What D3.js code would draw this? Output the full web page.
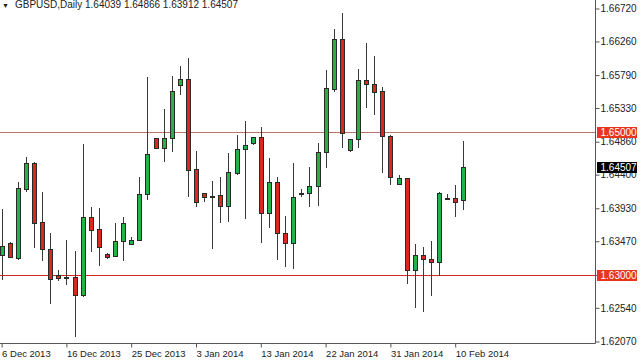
<!DOCTYPE html>
<html><head><meta charset="utf-8">
<script src="https://cdn.jsdelivr.net/npm/d3@7"></script>
<style>
html,body{margin:0;padding:0;background:#fff;}
svg{display:block;font-family:"Liberation Sans",Arial,sans-serif;}
</style></head>
<body>
<svg id="chart" width="640" height="360"></svg>
<script>
const symbolTitle = "GBPUSD,Daily";
const titleValues = ["1.64039", "1.64866", "1.63912", "1.64507"];

const opens = [1.63278,1.63441,1.63232,1.64200,1.64567,1.63735,1.63366,1.62999,1.62972,1.62975,
1.62719,1.63813,1.63637,1.63292,1.63268,1.63469,1.63429,1.63483,1.64123,1.64908,
1.64776,1.64908,1.65652,1.65732,1.64479,1.64140,1.64102,1.64116,1.63966,1.64427,
1.64754,1.64846,1.64926,1.63871,1.64302,1.63581,1.63441,1.64148,1.64148,1.64246,
1.64712,1.65596,1.66294,1.64744,1.64894,1.65722,1.65662,1.65568,1.64944,1.64269,
1.64349,1.63068,1.63278,1.63226,1.63176,1.64070,1.64070,1.64039];
const highs = [1.63920,1.63460,1.64302,1.64651,1.64577,1.64162,1.63589,1.63068,1.63487,1.63338,
1.64828,1.63944,1.63930,1.63299,1.63729,1.63804,1.63529,1.64367,1.65768,1.64912,
1.65313,1.65778,1.65922,1.66025,1.64735,1.64144,1.64316,1.64363,1.64707,1.64954,
1.65153,1.64930,1.65070,1.64633,1.64367,1.63823,1.64567,1.64195,1.64511,1.64846,
1.65861,1.66430,1.66662,1.64894,1.65875,1.66243,1.66057,1.65620,1.64947,1.64395,
1.64353,1.63432,1.63394,1.63478,1.64162,1.64126,1.64256,1.64866];
const lows = [1.62929,1.63236,1.63208,1.64162,1.63372,1.63198,1.62594,1.62919,1.62859,1.62137,
1.62696,1.63324,1.63128,1.63218,1.63264,1.63198,1.63425,1.63480,1.64050,1.64754,
1.64581,1.64721,1.65512,1.64092,1.63944,1.64022,1.63358,1.63721,1.63735,1.64395,
1.63777,1.64814,1.63441,1.63651,1.63208,1.63115,1.63078,1.64092,1.63944,1.63962,
1.64489,1.65550,1.64768,1.64721,1.64768,1.65327,1.65233,1.64427,1.64249,1.64256,
1.62873,1.62534,1.62486,1.62705,1.62985,1.64056,1.63804,1.63912];
const closes = [1.63404,1.63246,1.64209,1.64567,1.63729,1.63358,1.62939,1.62961,1.62969,1.62719,
1.63813,1.63627,1.63386,1.63254,1.63478,1.63729,1.63492,1.64130,1.64688,1.64768,
1.64916,1.65572,1.65732,1.64465,1.64022,1.64084,1.64100,1.63966,1.64437,1.64758,
1.64814,1.64926,1.63871,1.64302,1.63585,1.63441,1.64084,1.64150,1.64246,1.64712,
1.65606,1.66294,1.64986,1.64894,1.65722,1.65662,1.65558,1.64940,1.64367,1.64349,
1.63068,1.63278,1.63222,1.63176,1.64148,1.64072,1.64022,1.64507];

const yTickValues = [1.66720,1.66260,1.65790,1.65330,1.64860,1.64400,1.63930,1.63470,1.63000,1.62540,1.62070];
const xTickBars = [0, 8, 16, 24, 32, 40, 48, 56];
const xTickLabels = ["6 Dec 2013","16 Dec 2013","25 Dec 2013","3 Jan 2014","13 Jan 2014","22 Jan 2014","31 Jan 2014","10 Feb 2014"];
const levelLines = [1.65000, 1.63000];
const levelColors = ["#b8766a", "#cc2a22"];
const currentPrice = 1.64507;

const svg = d3.select("#chart");
const plotRight = 595.5, plotBottom = 343.5;

const bars = opens.map((o,i)=>({i, o, h:highs[i], l:lows[i], c:closes[i]}));

const x = d3.scaleLinear().domain([0, bars.length-1]).range([1.6, 463.3]);
const y = d3.scaleLinear().domain([1.6207, 1.6672]).range([341.5, 8.5]);

// level lines
const lv = svg.append("g");
levelLines.forEach((v,k)=>{
  const yy = Math.round(y(v)) + 0.5;
  lv.append("line").attr("x1",0).attr("x2",plotRight).attr("y1",yy).attr("y2",yy)
    .attr("stroke",levelColors[k]).attr("stroke-width",1);
});

// candles
const cg = svg.append("g");
bars.forEach(b=>{
  const cx = Math.round(x(b.i));
  const up = b.c >= b.o;
  cg.append("line").attr("x1",cx+0.5).attr("x2",cx+0.5)
    .attr("y1",Math.round(y(b.h))).attr("y2",Math.round(y(b.l)))
    .attr("stroke","#3a3a3a").attr("stroke-width",1);
  const yt = Math.round(y(Math.max(b.o,b.c)));
  const yb = Math.round(y(Math.min(b.o,b.c)));
  const hgt = Math.max(1, yb - yt);
  cg.append("rect").attr("x",cx-2+0.5).attr("y",yt+0.5).attr("width",4).attr("height",hgt)
    .attr("fill", up ? "#22b24a" : "#d9281e")
    .attr("stroke", "#2a2a2a").attr("stroke-width",1);
});

// frame
svg.append("line").attr("x1",plotRight).attr("x2",plotRight).attr("y1",0).attr("y2",plotBottom)
  .attr("stroke","#555").attr("stroke-width",1);
svg.append("line").attr("x1",0).attr("x2",plotRight).attr("y1",plotBottom).attr("y2",plotBottom)
  .attr("stroke","#555").attr("stroke-width",1);

// right axis
const ya = svg.append("g").attr("transform",`translate(${plotRight},0)`)
  .call(d3.axisRight(y).tickValues(yTickValues).tickSize(4).tickSizeOuter(0).tickFormat(d=>d.toFixed(5)));
ya.select(".domain").remove();
ya.selectAll(".tick line").attr("stroke","#555");
ya.selectAll(".tick text").attr("x",5).attr("fill","#222").style("font-size","10px")
  .style("font-family","'Liberation Sans',Arial,sans-serif");

// bottom axis
const xa = svg.append("g").attr("transform",`translate(0,${plotBottom})`)
  .call(d3.axisBottom(x).tickValues(xTickBars).tickSize(4).tickSizeOuter(0).tickFormat((d,i)=>xTickLabels[i]));
xa.select(".domain").remove();
xa.selectAll(".tick line").attr("stroke","#555");
xa.selectAll(".tick text").attr("text-anchor","start").attr("x",0).attr("y",7).attr("fill","#222")
  .style("font-size","9.5px").style("font-family","'Liberation Sans',Arial,sans-serif");

// price boxes
function priceBox(v, bg){
  const yy = Math.round(y(v)) + 0.5;
  const g = svg.append("g");
  g.append("rect").attr("x",plotRight+1.5).attr("y",yy-5.5).attr("width",40).attr("height",11).attr("fill",bg);
  g.append("text").attr("x",plotRight+5).attr("y",yy).attr("dy","0.35em").attr("fill","#fff")
    .style("font-size","10px").text(v.toFixed(5));
}
levelLines.forEach(v=>priceBox(v,"#e8361e"));
priceBox(currentPrice,"#000");

// title
svg.append("text").attr("x",2).attr("y",8).style("font-size","7px").attr("fill","#222").text("▼");
svg.append("text").attr("x",15).attr("y",8).attr("fill","#222").style("font-size","10px")
  .text(symbolTitle + "  " + titleValues.join(" "));
</script>
</body></html>
